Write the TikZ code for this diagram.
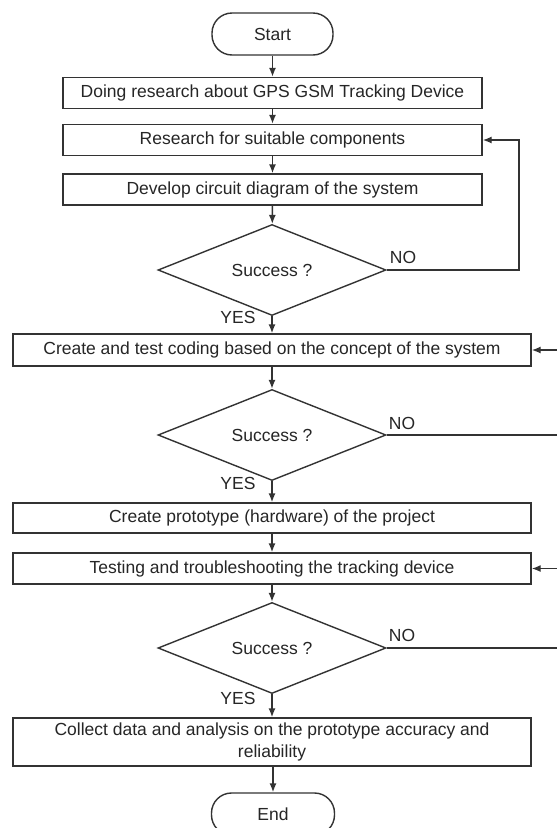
\documentclass[tikz,border=0pt]{standalone}
\usepackage{fontspec}
\setmainfont{Liberation Sans}
\usetikzlibrary{shapes.geometric,arrows.meta}

\begin{document}
\begin{tikzpicture}[x=1pt,y=-1pt,
  font=\fontsize{17.5}{22}\selectfont,
  every node/.style={text=black!85},
  ln/.style={draw=black!80,line width=1.4pt},
  flow/.style={ln,-{Latex[length=9pt,width=7pt]}},
  terminal/.style={ln,rounded corners=20pt,minimum width=121pt,minimum height=42pt,inner sep=0pt},
  procbox/.style={ln,minimum width=419pt,minimum height=31pt,inner sep=0pt},
  widebox/.style={ln,minimum width=518pt,minimum height=31pt,inner sep=0pt},
  decision/.style={ln,diamond,aspect=2.5,minimum width=228pt,minimum height=91pt,inner sep=0pt},
  tag/.style={inner sep=0pt}
]
\useasboundingbox (0,0) rectangle (557,828);
\clip (0,0) rectangle (557,828);
\fill[white] (0,0) rectangle (557,828);

% main column
\node[terminal] (start) at (272.5,34) {Start};
\node[procbox] (b1) at (272.5,93) {Doing research about GPS GSM Tracking Device};
\node[procbox] (b2) at (272.5,140) {Research for suitable components};
\node[procbox] (b3) at (272.5,189.5) {Develop circuit diagram of the system};
\node[decision] (d1) at (272,270) {Success ?};
\node[widebox, minimum height=32pt] (b4) at (272,350) {Create and test coding based on the concept of the system};
\node[decision] (d2) at (272,435) {Success ?};
\node[widebox, minimum height=30pt] (b5) at (272,518) {Create prototype (hardware) of the project};
\node[widebox] (b6) at (272,568.5) {Testing and troubleshooting the tracking device};
\node[decision] (d3) at (272,648) {Success ?};
\node[widebox, minimum height=48pt, align=center] (b7) at (272,742)
  {Collect data and analysis on the prototype accuracy and\\reliability};
\node[terminal, minimum width=123pt] (end) at (273,814) {End};

% branch labels
\node[tag] (no1) at (403,257) {NO};
\node[tag] (yes1) at (238,317) {YES};
\node[tag] (no2) at (402,423) {NO};
\node[tag] (yes2) at (238,483) {YES};
\node[tag] (no3) at (402,635) {NO};
\node[tag] (yes3) at (238,698) {YES};

% straight flow
\draw[flow] (start) -- (b1);
\draw[flow] (b1) -- (b2);
\draw[flow] (b2) -- (b3);
\draw[flow] (b3) -- (d1);
\draw[flow] (d1) -- (b4);
\draw[flow] (b4) -- (d2);
\draw[flow] (d2) -- (b5);
\draw[flow] (b5) -- (b6);
\draw[flow] (b6) -- (d3);
\draw[flow] (d3) -- (b7);
\draw[flow] (b7.south -| end.north) -- (end.north);

% return paths
\coordinate (loopx) at (519,0);
\coordinate (edge) at (560,0);
\draw[flow] (d1.east) -- (d1.east -| loopx) |- (b2.east);
\draw[ln] (d2.east) -- (d2.east -| edge);
\draw[flow] (b4.east -| edge) -- (b4.east);
\draw[ln] (d3.east) -- (d3.east -| edge);
\draw[flow] (b6.east -| edge) -- (b6.east);
\end{tikzpicture}
\end{document}
